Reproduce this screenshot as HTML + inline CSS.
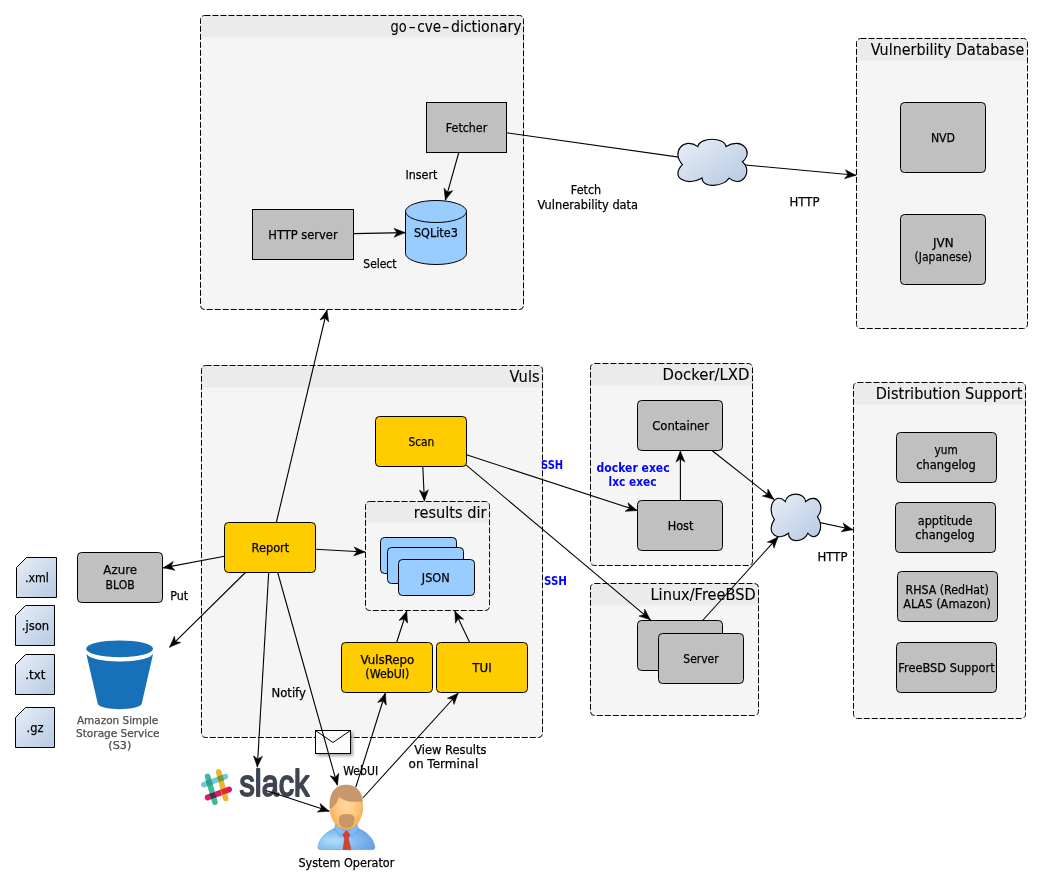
<!DOCTYPE html>
<html lang="en">
<head>
<meta charset="utf-8">
<title>Vuls architecture</title>
<style>
html,body{margin:0;padding:0;background:#fff;}
body{width:1043px;height:887px;overflow:hidden;}
svg{display:block;font-family:"DejaVu Sans","Liberation Sans",sans-serif;will-change:transform;}
text{stroke-width:0.25px;}
</style>
</head>
<body>
<svg width="1043" height="887" viewBox="0 0 1043 887">
<defs>
<linearGradient id="gcloud" x1="0" y1="0" x2="1" y2="1">
<stop offset="0" stop-color="#e8eef7"/><stop offset="1" stop-color="#b7c9e3"/>
</linearGradient>
<linearGradient id="gcard" x1="0" y1="0" x2="1" y2="1">
<stop offset="0" stop-color="#e8eef7"/><stop offset="1" stop-color="#b7c9e3"/>
</linearGradient>
<radialGradient id="gface" cx="0.5" cy="0.45" r="0.6">
<stop offset="0" stop-color="#ffd9a3"/><stop offset="0.6" stop-color="#ffc47c"/><stop offset="1" stop-color="#f7a748"/>
</radialGradient>
<radialGradient id="gshirt" cx="0.28" cy="0.6" r="0.8">
<stop offset="0" stop-color="#aee0fc"/><stop offset="0.5" stop-color="#86bdf0"/><stop offset="1" stop-color="#5f9be0"/>
</radialGradient>
<filter id="shadow" x="-20%" y="-20%" width="150%" height="160%">
<feGaussianBlur in="SourceAlpha" stdDeviation="1.5"/><feOffset dx="2.2" dy="2.2"/>
<feComponentTransfer><feFuncA type="linear" slope="0.38"/></feComponentTransfer>
<feMerge><feMergeNode/><feMergeNode in="SourceGraphic"/></feMerge>
</filter>
</defs>
<rect width="1043" height="887" fill="#fff"/>

<g>
<rect x="200.5" y="15.5" width="323" height="294" rx="4" fill="#f5f5f5"/>
<path d="M200.5,37.5 V19.5 a4,4 0 0 1 4,-4 H519.5 a4,4 0 0 1 4,4 V37.5 Z" fill="#ebebeb"/>
<rect x="200.5" y="15.5" width="323" height="294" rx="4" fill="none" stroke="#000" stroke-width="1" stroke-dasharray="6 2"/>
</g>
<text y="32.1" font-size="15" stroke="#000" style="stroke-width:0.1px"><tspan x="390.6" textLength="16.2" lengthAdjust="spacingAndGlyphs">go</tspan><tspan x="408.4" textLength="7.4" lengthAdjust="spacingAndGlyphs">-</tspan><tspan x="417.3" textLength="23.8" lengthAdjust="spacingAndGlyphs">cve</tspan><tspan x="442.0" textLength="7.4" lengthAdjust="spacingAndGlyphs">-</tspan><tspan x="450.9" textLength="70.7" lengthAdjust="spacingAndGlyphs">dictionary</tspan></text>
<g>
<rect x="856.5" y="38.5" width="171" height="290" rx="4" fill="#f5f5f5"/>
<path d="M856.5,60.5 V42.5 a4,4 0 0 1 4,-4 H1023.5 a4,4 0 0 1 4,4 V60.5 Z" fill="#ebebeb"/>
<rect x="856.5" y="38.5" width="171" height="290" rx="4" fill="none" stroke="#000" stroke-width="1" stroke-dasharray="6 2"/>
<text x="870.80" y="55.10" font-size="15" stroke="#000" textLength="153.60" lengthAdjust="spacingAndGlyphs" style="stroke-width:0.1px">Vulnerbility Database</text>
</g>
<g>
<rect x="201.5" y="365.5" width="341" height="372" rx="4" fill="#f5f5f5"/>
<path d="M201.5,387.5 V369.5 a4,4 0 0 1 4,-4 H538.5 a4,4 0 0 1 4,4 V387.5 Z" fill="#ebebeb"/>
<rect x="201.5" y="365.5" width="341" height="372" rx="4" fill="none" stroke="#000" stroke-width="1" stroke-dasharray="6 2"/>
<text x="509.60" y="382.10" font-size="15" stroke="#000" textLength="30.00" lengthAdjust="spacingAndGlyphs" style="stroke-width:0.1px">Vuls</text>
</g>
<g>
<rect x="365.5" y="501.5" width="124" height="109" rx="4" fill="#f5f5f5"/>
<path d="M365.5,522.5 V505.5 a4,4 0 0 1 4,-4 H485.5 a4,4 0 0 1 4,4 V522.5 Z" fill="#ebebeb"/>
<rect x="365.5" y="501.5" width="124" height="109" rx="4" fill="none" stroke="#000" stroke-width="1" stroke-dasharray="6 2"/>
<text x="413.80" y="518.00" font-size="15" stroke="#000" textLength="72.80" lengthAdjust="spacingAndGlyphs" style="stroke-width:0.1px">results dir</text>
</g>
<g>
<rect x="590.5" y="363.5" width="162" height="202" rx="4" fill="#f5f5f5"/>
<path d="M590.5,385.5 V367.5 a4,4 0 0 1 4,-4 H748.5 a4,4 0 0 1 4,4 V385.5 Z" fill="#ebebeb"/>
<rect x="590.5" y="363.5" width="162" height="202" rx="4" fill="none" stroke="#000" stroke-width="1" stroke-dasharray="6 2"/>
<text x="662.50" y="380.40" font-size="15" stroke="#000" textLength="87.00" lengthAdjust="spacingAndGlyphs" style="stroke-width:0.1px">Docker/LXD</text>
</g>
<g>
<rect x="590.5" y="583.5" width="168" height="132" rx="4" fill="#f5f5f5"/>
<path d="M590.5,605.5 V587.5 a4,4 0 0 1 4,-4 H754.5 a4,4 0 0 1 4,4 V605.5 Z" fill="#ebebeb"/>
<rect x="590.5" y="583.5" width="168" height="132" rx="4" fill="none" stroke="#000" stroke-width="1" stroke-dasharray="6 2"/>
<text x="650.50" y="600.00" font-size="15" stroke="#000" textLength="105.20" lengthAdjust="spacingAndGlyphs" style="stroke-width:0.1px">Linux/FreeBSD</text>
</g>
<g>
<rect x="853.5" y="382.5" width="172" height="336" rx="4" fill="#f5f5f5"/>
<path d="M853.5,404.5 V386.5 a4,4 0 0 1 4,-4 H1021.5 a4,4 0 0 1 4,4 V404.5 Z" fill="#ebebeb"/>
<rect x="853.5" y="382.5" width="172" height="336" rx="4" fill="none" stroke="#000" stroke-width="1" stroke-dasharray="6 2"/>
<text x="875.70" y="399.20" font-size="15" stroke="#000" textLength="146.70" lengthAdjust="spacingAndGlyphs" style="stroke-width:0.1px">Distribution Support</text>
</g>
<g filter="url(#shadow)"><rect x="315.5" y="730.5" width="35" height="23" fill="#fff" fill-opacity="0.92" stroke="#000"/></g>
<path d="M315.5,730.5 L333,742.5 L350.5,730.5" fill="none" stroke="#000"/>
<g stroke-linecap="round" stroke-width="5.6" fill="none">
<line x1="203.9" y1="784.6" x2="225.4" y2="776.6" stroke="#70cadb"/>
<line x1="207.6" y1="797.5" x2="229.2" y2="789.5" stroke="#e01765"/>
<line x1="207.6" y1="776.4" x2="214.9" y2="802.2" stroke="#3eb991"/>
<line x1="218.7" y1="772.0" x2="225.6" y2="798.4" stroke="#ecb32d"/>
</g>
<rect x="-2.8" y="-2.8" width="5.6" height="5.6" fill="#2f9e8c" transform="translate(209.2,782.6) rotate(-19)"/>
<rect x="-2.8" y="-2.8" width="5.6" height="5.6" fill="#6c9b3c" transform="translate(220.6,778.4) rotate(-19)"/>
<rect x="-2.8" y="-2.8" width="5.6" height="5.6" fill="#4d2a57" transform="translate(212.9,795.5) rotate(-19)"/>
<rect x="-2.8" y="-2.8" width="5.6" height="5.6" fill="#e0272e" transform="translate(224.3,791.3) rotate(-19)"/>
<text x="239.6" y="796.4" font-family="'Liberation Sans','DejaVu Sans',sans-serif" font-size="36.8" fill="#3d4452" stroke="#3d4452" style="stroke-width:1.8px" stroke-linejoin="round" textLength="69.6" lengthAdjust="spacingAndGlyphs">slack</text>
<line x1="458.80" y1="152.50" x2="445.30" y2="200.30" stroke="#000" stroke-width="1.1"/>
<path d="M-0.3,0 L-11.3,-4.5 L-8.3,0 L-11.3,4.5 Z" fill="#000" stroke="#000" stroke-width="0.5" transform="translate(445.30,200.30) rotate(105.77)"/>
<line x1="353.50" y1="233.60" x2="405.30" y2="232.60" stroke="#000" stroke-width="1.1"/>
<path d="M-0.3,0 L-11.3,-4.5 L-8.3,0 L-11.3,4.5 Z" fill="#000" stroke="#000" stroke-width="0.5" transform="translate(405.30,232.60) rotate(-1.11)"/>
<line x1="506.50" y1="132.80" x2="712.50" y2="161.90" stroke="#000" stroke-width="1.1"/>
<line x1="712.50" y1="161.90" x2="856.20" y2="175.30" stroke="#000" stroke-width="1.1"/>
<path d="M-0.3,0 L-11.3,-4.5 L-8.3,0 L-11.3,4.5 Z" fill="#000" stroke="#000" stroke-width="0.5" transform="translate(856.20,175.30) rotate(5.33)"/>
<line x1="276.30" y1="522.50" x2="327.00" y2="310.00" stroke="#000" stroke-width="1.1"/>
<path d="M-0.3,0 L-11.3,-4.5 L-8.3,0 L-11.3,4.5 Z" fill="#000" stroke="#000" stroke-width="0.5" transform="translate(327.00,310.00) rotate(-76.58)"/>
<line x1="422.80" y1="466.50" x2="424.40" y2="501.20" stroke="#000" stroke-width="1.1"/>
<path d="M-0.3,0 L-11.3,-4.5 L-8.3,0 L-11.3,4.5 Z" fill="#000" stroke="#000" stroke-width="0.5" transform="translate(424.40,501.20) rotate(87.36)"/>
<line x1="315.50" y1="549.30" x2="365.20" y2="552.00" stroke="#000" stroke-width="1.1"/>
<path d="M-0.3,0 L-11.3,-4.5 L-8.3,0 L-11.3,4.5 Z" fill="#000" stroke="#000" stroke-width="0.5" transform="translate(365.20,552.00) rotate(3.11)"/>
<line x1="396.60" y1="642.50" x2="406.80" y2="611.00" stroke="#000" stroke-width="1.1"/>
<path d="M-0.3,0 L-11.3,-4.5 L-8.3,0 L-11.3,4.5 Z" fill="#000" stroke="#000" stroke-width="0.5" transform="translate(406.80,611.00) rotate(-72.06)"/>
<line x1="469.70" y1="642.50" x2="454.70" y2="611.00" stroke="#000" stroke-width="1.1"/>
<path d="M-0.3,0 L-11.3,-4.5 L-8.3,0 L-11.3,4.5 Z" fill="#000" stroke="#000" stroke-width="0.5" transform="translate(454.70,611.00) rotate(-115.46)"/>
<line x1="466.50" y1="454.80" x2="637.30" y2="510.60" stroke="#000" stroke-width="1.1"/>
<path d="M-0.3,0 L-11.3,-4.5 L-8.3,0 L-11.3,4.5 Z" fill="#000" stroke="#000" stroke-width="0.5" transform="translate(637.30,510.60) rotate(18.09)"/>
<line x1="466.30" y1="465.20" x2="650.50" y2="619.90" stroke="#000" stroke-width="1.1"/>
<path d="M-0.3,0 L-11.3,-4.5 L-8.3,0 L-11.3,4.5 Z" fill="#000" stroke="#000" stroke-width="0.5" transform="translate(650.50,619.90) rotate(40.03)"/>
<line x1="680.40" y1="500.50" x2="680.40" y2="450.80" stroke="#000" stroke-width="1.1"/>
<path d="M-0.3,0 L-11.3,-4.5 L-8.3,0 L-11.3,4.5 Z" fill="#000" stroke="#000" stroke-width="0.5" transform="translate(680.40,450.80) rotate(-90.00)"/>
<line x1="712.00" y1="450.50" x2="774.00" y2="499.50" stroke="#000" stroke-width="1.1"/>
<path d="M-0.3,0 L-11.3,-4.5 L-8.3,0 L-11.3,4.5 Z" fill="#000" stroke="#000" stroke-width="0.5" transform="translate(774.00,499.50) rotate(38.32)"/>
<line x1="702.60" y1="620.50" x2="778.20" y2="536.80" stroke="#000" stroke-width="1.1"/>
<path d="M-0.3,0 L-11.3,-4.5 L-8.3,0 L-11.3,4.5 Z" fill="#000" stroke="#000" stroke-width="0.5" transform="translate(778.20,536.80) rotate(-47.91)"/>
<line x1="796.00" y1="517.40" x2="853.20" y2="529.80" stroke="#000" stroke-width="1.1"/>
<path d="M-0.3,0 L-11.3,-4.5 L-8.3,0 L-11.3,4.5 Z" fill="#000" stroke="#000" stroke-width="0.5" transform="translate(853.20,529.80) rotate(12.23)"/>
<line x1="224.50" y1="556.30" x2="163.00" y2="567.90" stroke="#000" stroke-width="1.1"/>
<path d="M-0.3,0 L-11.3,-4.5 L-8.3,0 L-11.3,4.5 Z" fill="#000" stroke="#000" stroke-width="0.5" transform="translate(163.00,567.90) rotate(169.32)"/>
<line x1="245.40" y1="572.50" x2="169.50" y2="647.30" stroke="#000" stroke-width="1.1"/>
<path d="M-0.3,0 L-11.3,-4.5 L-8.3,0 L-11.3,4.5 Z" fill="#000" stroke="#000" stroke-width="0.5" transform="translate(169.50,647.30) rotate(135.42)"/>
<line x1="268.70" y1="572.50" x2="257.30" y2="767.30" stroke="#000" stroke-width="1.1"/>
<path d="M-0.3,0 L-11.3,-4.5 L-8.3,0 L-11.3,4.5 Z" fill="#000" stroke="#000" stroke-width="0.5" transform="translate(257.30,767.30) rotate(93.35)"/>
<line x1="277.70" y1="572.50" x2="337.50" y2="785.40" stroke="#000" stroke-width="1.1"/>
<path d="M-0.3,0 L-11.3,-4.5 L-8.3,0 L-11.3,4.5 Z" fill="#000" stroke="#000" stroke-width="0.5" transform="translate(337.50,785.40) rotate(74.31)"/>
<line x1="266.00" y1="790.40" x2="329.40" y2="811.30" stroke="#000" stroke-width="1.1"/>
<path d="M-0.3,0 L-11.3,-4.5 L-8.3,0 L-11.3,4.5 Z" fill="#000" stroke="#000" stroke-width="0.5" transform="translate(329.40,811.30) rotate(18.24)"/>
<line x1="355.80" y1="787.20" x2="385.40" y2="693.00" stroke="#000" stroke-width="1.1"/>
<path d="M-0.3,0 L-11.3,-4.5 L-8.3,0 L-11.3,4.5 Z" fill="#000" stroke="#000" stroke-width="0.5" transform="translate(385.40,693.00) rotate(-72.56)"/>
<line x1="362.80" y1="798.00" x2="458.30" y2="693.00" stroke="#000" stroke-width="1.1"/>
<path d="M-0.3,0 L-11.3,-4.5 L-8.3,0 L-11.3,4.5 Z" fill="#000" stroke="#000" stroke-width="0.5" transform="translate(458.30,693.00) rotate(-47.71)"/>
<path d="M215,375 C103,255 230,106 360,203 C376,110 612,109 625,203 C777,107 892,258 780,348 C886,442 771,609 655,505 C599,590 400,606 400,505 C262,589 90,502 215,375 Z" fill="url(#gcloud)" stroke="#000" stroke-width="1.15" vector-effect="non-scaling-stroke" transform="translate(677.90,139.30) scale(0.10613,0.10430) translate(-172,-133)"/>
<path d="M215,375 C103,255 230,106 360,203 C376,110 612,109 625,203 C777,107 892,258 780,348 C886,442 771,609 655,505 C599,590 400,606 400,505 C262,589 90,502 215,375 Z" fill="url(#gcloud)" stroke="#000" stroke-width="1.15" vector-effect="non-scaling-stroke" transform="translate(771.10,494.20) scale(0.07626,0.10498) translate(-172,-133)"/>
<rect x="426.5" y="102.5" width="80" height="50" rx="0" fill="#c0c0c0" stroke="#000"/>
<text x="445.80" y="132.00" font-size="12" stroke="#000" textLength="41.40" lengthAdjust="spacingAndGlyphs">Fetcher</text>
<rect x="252.5" y="209.5" width="101" height="50" rx="0" fill="#c0c0c0" stroke="#000"/>
<text x="268.35" y="239.00" font-size="12" stroke="#000" textLength="69.30" lengthAdjust="spacingAndGlyphs">HTTP server</text>
<path d="M405.5,211.5 V253.5 A30.5,11 0 0 0 466.5,253.5 V211.5 A30.5,11 0 0 0 405.5,211.5 Z" fill="#99ccff" stroke="#000"/>
<path d="M405.5,211.5 A30.5,11 0 0 0 466.5,211.5" fill="none" stroke="#000"/>
<text x="413.95" y="237.30" font-size="12" stroke="#000" textLength="43.90" lengthAdjust="spacingAndGlyphs">SQLite3</text>
<rect x="900.5" y="102.5" width="85" height="70" rx="4" fill="#c0c0c0" stroke="#000"/>
<text x="930.90" y="142.00" font-size="12" stroke="#000" textLength="24.20" lengthAdjust="spacingAndGlyphs">NVD</text>
<rect x="900.5" y="214.5" width="85" height="70" rx="4" fill="#c0c0c0" stroke="#000"/>
<text x="933.00" y="246.70" font-size="12" stroke="#000" textLength="20.60" lengthAdjust="spacingAndGlyphs">JVN</text>
<text x="914.55" y="260.70" font-size="12" stroke="#000" textLength="57.50" lengthAdjust="spacingAndGlyphs">(Japanese)</text>
<rect x="375.5" y="416.5" width="91" height="50" rx="4" fill="#ffcc00" stroke="#000"/>
<text x="408.55" y="446.00" font-size="12" stroke="#000" textLength="25.70" lengthAdjust="spacingAndGlyphs">Scan</text>
<rect x="224.5" y="522.5" width="91" height="50" rx="4" fill="#ffcc00" stroke="#000"/>
<text x="251.55" y="552.00" font-size="12" stroke="#000" textLength="37.70" lengthAdjust="spacingAndGlyphs">Report</text>
<rect x="341.5" y="642.5" width="91" height="50" rx="4" fill="#ffcc00" stroke="#000"/>
<text x="360.45" y="664.00" font-size="12" stroke="#000" textLength="53.90" lengthAdjust="spacingAndGlyphs">VulsRepo</text>
<text x="365.35" y="678.30" font-size="12" stroke="#000" textLength="44.10" lengthAdjust="spacingAndGlyphs">(WebUI)</text>
<rect x="436.5" y="642.5" width="91" height="50" rx="4" fill="#ffcc00" stroke="#000"/>
<text x="472.30" y="672.00" font-size="12" stroke="#000" textLength="19.40" lengthAdjust="spacingAndGlyphs">TUI</text>
<rect x="380.5" y="537.5" width="76" height="36" rx="4" fill="#99ccff" stroke="#000"/>
<rect x="387.5" y="547.5" width="76" height="36" rx="4" fill="#99ccff" stroke="#000"/>
<rect x="398.5" y="559.5" width="76" height="36" rx="4" fill="#99ccff" stroke="#000"/>
<text x="421.85" y="582.00" font-size="12" stroke="#000" textLength="27.90" lengthAdjust="spacingAndGlyphs">JSON</text>
<rect x="637.5" y="400.5" width="85" height="50" rx="4" fill="#c0c0c0" stroke="#000"/>
<text x="652.15" y="430.00" font-size="12" stroke="#000" textLength="56.90" lengthAdjust="spacingAndGlyphs">Container</text>
<rect x="637.5" y="500.5" width="85" height="50" rx="4" fill="#c0c0c0" stroke="#000"/>
<text x="667.65" y="530.00" font-size="12" stroke="#000" textLength="25.70" lengthAdjust="spacingAndGlyphs">Host</text>
<rect x="637.5" y="620.5" width="85" height="50" rx="4" fill="#c0c0c0" stroke="#000"/>
<rect x="658.5" y="633.5" width="85" height="50" rx="4" fill="#c0c0c0" stroke="#000"/>
<text x="683.30" y="663.00" font-size="12" stroke="#000" textLength="35.40" lengthAdjust="spacingAndGlyphs">Server</text>
<rect x="896.5" y="432.5" width="100" height="50" rx="4" fill="#c0c0c0" stroke="#000"/>
<text x="934.50" y="454.10" font-size="12" stroke="#000" textLength="23.20" lengthAdjust="spacingAndGlyphs">yum</text>
<text x="916.30" y="469.10" font-size="12" stroke="#000" textLength="59.60" lengthAdjust="spacingAndGlyphs">changelog</text>
<rect x="895.5" y="502.5" width="100" height="50" rx="4" fill="#c0c0c0" stroke="#000"/>
<text x="917.70" y="524.70" font-size="12" stroke="#000" textLength="54.80" lengthAdjust="spacingAndGlyphs">apptitude</text>
<text x="915.30" y="538.80" font-size="12" stroke="#000" textLength="59.60" lengthAdjust="spacingAndGlyphs">changelog</text>
<rect x="897.5" y="571.5" width="100" height="50" rx="4" fill="#c0c0c0" stroke="#000"/>
<text x="905.50" y="593.60" font-size="12" stroke="#000" textLength="83.20" lengthAdjust="spacingAndGlyphs">RHSA (RedHat)</text>
<text x="903.15" y="607.70" font-size="12" stroke="#000" textLength="87.90" lengthAdjust="spacingAndGlyphs">ALAS (Amazon)</text>
<rect x="896.5" y="642.5" width="100" height="50" rx="4" fill="#c0c0c0" stroke="#000"/>
<text x="898.35" y="672.00" font-size="12" stroke="#000" textLength="96.30" lengthAdjust="spacingAndGlyphs">FreeBSD Support</text>
<rect x="77.5" y="552.5" width="85" height="50" rx="4" fill="#c0c0c0" stroke="#000"/>
<text x="103.35" y="574.10" font-size="12" stroke="#000" textLength="33.70" lengthAdjust="spacingAndGlyphs">Azure</text>
<text x="105.60" y="588.60" font-size="12" stroke="#000" textLength="29.20" lengthAdjust="spacingAndGlyphs">BLOB</text>
<path d="M16.5,567.5 L26.5,557.5 H56.5 V597.5 H16.5 Z" fill="url(#gcard)" stroke="#000"/>
<text x="24.90" y="581.90" font-size="12" stroke="#000" textLength="24.00" lengthAdjust="spacingAndGlyphs">.xml</text>
<path d="M15.5,615.5 L25.5,605.5 H54.5 V645.5 H15.5 Z" fill="url(#gcard)" stroke="#000"/>
<text x="21.75" y="629.90" font-size="12" stroke="#000" textLength="27.30" lengthAdjust="spacingAndGlyphs">.json</text>
<path d="M15.5,664.5 L25.5,654.5 H54.5 V694.5 H15.5 Z" fill="url(#gcard)" stroke="#000"/>
<text x="25.35" y="678.90" font-size="12" stroke="#000" textLength="19.90" lengthAdjust="spacingAndGlyphs">.txt</text>
<path d="M15.5,717.5 L25.5,707.5 H54.5 V747.5 H15.5 Z" fill="url(#gcard)" stroke="#000"/>
<text x="26.50" y="731.90" font-size="12" stroke="#000" textLength="17.00" lengthAdjust="spacingAndGlyphs">.gz</text>
<g fill="#1770b8">
<ellipse cx="119.6" cy="648.8" rx="33.4" ry="8.4"/>
<path d="M86.2,653.6 C91,664.2 148.4,664.2 153.2,653.6 L141.6,704.3 C136,710.8 103.5,710.8 97.9,704.3 Z"/>
</g>
<text x="76.95" y="723.90" font-size="10" fill="#4f4f4f" stroke="#4f4f4f" textLength="81.30" lengthAdjust="spacingAndGlyphs">Amazon Simple</text>
<text x="76.05" y="736.60" font-size="10" fill="#4f4f4f" stroke="#4f4f4f" textLength="83.50" lengthAdjust="spacingAndGlyphs">Storage Service</text>
<text x="108.30" y="749.40" font-size="10" fill="#4f4f4f" stroke="#4f4f4f" textLength="23.00" lengthAdjust="spacingAndGlyphs">(S3)</text>
<g>
<path d="M320.6,849.6 C318.6,849.6 317.8,848.4 318.1,846.4 C319.6,837.2 328,830.5 337.2,827.5 L355.6,827.5 C364.8,830.5 373.2,837.2 374.7,846.4 C375,848.4 374.2,849.6 372.2,849.6 Z" fill="url(#gshirt)" stroke="#5b93d6" stroke-width="0.6"/>
<path d="M335.8,823.3 L346.4,832.5 L340.3,837.2 L334.6,828.6 Z M357.0,823.3 L346.4,832.5 L352.5,837.2 L358.2,828.6 Z" fill="#7dbdf6" stroke="#5b93d6" stroke-width="0.5"/>
<path d="M346.4,830.6 L350.0,834.6 L348.3,838.4 L350.9,849.6 L343.1,849.6 L344.6,838.4 L342.8,834.6 Z" fill="#d6432c" stroke="#b5301f" stroke-width="0.5"/>
<ellipse cx="346.3" cy="807.5" rx="16.3" ry="21.8" fill="url(#gface)" stroke="#f0a04a" stroke-width="0.6"/>
<path d="M330.2,808 C329,796 333,785.2 346.5,785.1 C357.5,785.1 362,793.5 362.6,801.2 C355,801 347,803 338.6,796.2 C337,802.5 334.5,806.5 330.2,808 Z" fill="#c9976c" stroke="#b58358" stroke-width="0.5"/>
<path d="M339.4,818.6 C339.4,815.0 342.5,814.4 346.6,814.4 C350.7,814.4 353.9,815.0 353.9,818.6 L353.6,822.2 C353.2,825.6 350.6,827.4 346.6,827.4 C342.6,827.4 340.1,825.6 339.7,822.2 Z" fill="#c9976c" stroke="#b58358" stroke-width="0.5"/>
</g>
<text x="298.40" y="867.00" font-size="12" stroke="#000" textLength="96.00" lengthAdjust="spacingAndGlyphs">System Operator</text>
<text x="405.45" y="179.40" font-size="12" stroke="#000" textLength="31.90" lengthAdjust="spacingAndGlyphs">Insert</text>
<text x="363.30" y="267.70" font-size="12" stroke="#000" textLength="33.20" lengthAdjust="spacingAndGlyphs">Select</text>
<text x="570.80" y="194.40" font-size="12" stroke="#000" textLength="30.40" lengthAdjust="spacingAndGlyphs">Fetch</text>
<text x="537.55" y="209.30" font-size="12" stroke="#000" textLength="100.50" lengthAdjust="spacingAndGlyphs">Vulnerability data</text>
<text x="789.55" y="205.90" font-size="12" stroke="#000" textLength="29.90" lengthAdjust="spacingAndGlyphs">HTTP</text>
<text x="817.55" y="560.90" font-size="12" stroke="#000" textLength="29.90" lengthAdjust="spacingAndGlyphs">HTTP</text>
<text x="541.00" y="469.20" font-size="12" font-weight="bold" style="stroke-width:0" fill="#0000ff" stroke="#0000ff" textLength="22.20" lengthAdjust="spacingAndGlyphs">SSH</text>
<text x="544.00" y="585.30" font-size="12" font-weight="bold" style="stroke-width:0" fill="#0000ff" stroke="#0000ff" textLength="23.00" lengthAdjust="spacingAndGlyphs">SSH</text>
<text x="596.55" y="472.20" font-size="12" font-weight="bold" style="stroke-width:0" fill="#0000ff" stroke="#0000ff" textLength="73.10" lengthAdjust="spacingAndGlyphs">docker exec</text>
<text x="608.55" y="485.90" font-size="12" font-weight="bold" style="stroke-width:0" fill="#0000ff" stroke="#0000ff" textLength="47.90" lengthAdjust="spacingAndGlyphs">lxc exec</text>
<text x="170.25" y="599.80" font-size="12" stroke="#000" textLength="17.90" lengthAdjust="spacingAndGlyphs">Put</text>
<text x="271.50" y="697.00" font-size="12" stroke="#000" textLength="34.40" lengthAdjust="spacingAndGlyphs">Notify</text>
<text x="343.25" y="774.70" font-size="12" stroke="#000" textLength="34.90" lengthAdjust="spacingAndGlyphs">WebUI</text>
<text x="414.15" y="753.50" font-size="12" stroke="#000" textLength="72.30" lengthAdjust="spacingAndGlyphs">View Results</text>
<text x="408.50" y="767.70" font-size="12" stroke="#000" textLength="69.80" lengthAdjust="spacingAndGlyphs">on Terminal</text>
</svg>
</body>
</html>
